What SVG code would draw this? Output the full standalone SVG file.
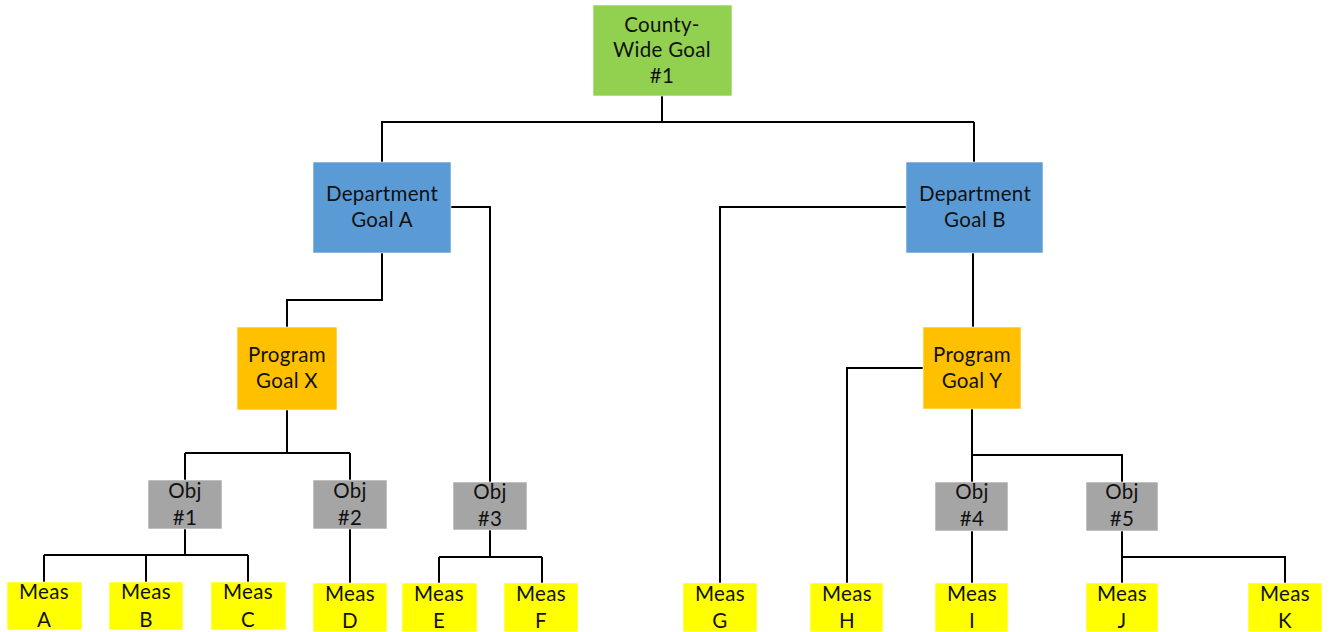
<svg xmlns="http://www.w3.org/2000/svg" width="1332" height="632" viewBox="0 0 1332 632">
<style>
text{font-family:Lato,"Open Sans","Liberation Sans",sans-serif;font-size:20.5px;letter-spacing:0.3px;fill:#111;text-anchor:middle}
.c{fill:none;stroke:#000;stroke-width:2}
.g{fill:#92D050}.b{fill:#5B9BD5}.o{fill:#FFC000}.s{fill:#A5A5A5}.y{fill:#FFFF00}
rect{stroke:#fff;stroke-width:0.6}
</style>
<rect width="1332" height="632" fill="#fff" stroke="none"/>
<g id="connectors">
<path class="c" d="M662 96V122M381 122H974M382 122V162M974 122V162"/>
<path class="c" d="M382 253V300H287V327"/>
<path class="c" d="M451 207H490V482"/>
<path class="c" d="M287 410V453M185 453H350M185 453V480M350 453V480"/>
<path class="c" d="M185 529V555M44 555H248M44 555V582M146 555V582M248 555V582"/>
<path class="c" d="M350 529V583"/>
<path class="c" d="M490 530V557M439 557H542M439 557V583M542 557V583"/>
<path class="c" d="M906 207H720V583"/>
<path class="c" d="M973 253V327"/>
<path class="c" d="M923 368H847V583"/>
<path class="c" d="M972 409V482M972 455H1122V482"/>
<path class="c" d="M972 531V583"/>
<path class="c" d="M1122 531V583M1122 557H1285V583"/>
</g>
<g id="county"><rect class="g" x="593" y="5" width="139" height="91"/><text x="662" y="32">County-</text><text x="662" y="57">Wide Goal</text><text x="662" y="83">#1</text></g>
<g id="deptA"><rect class="b" x="313" y="162" width="138" height="91"/><text x="382" y="201">Department</text><text x="382" y="227">Goal A</text></g>
<g id="deptB"><rect class="b" x="906" y="162" width="137" height="91"/><text x="975" y="201">Department</text><text x="975" y="227">Goal B</text></g>
<g id="progX"><rect class="o" x="237" y="327" width="100" height="83"/><text x="287" y="362">Program</text><text x="287" y="388">Goal X</text></g>
<g id="progY"><rect class="o" x="923" y="327" width="98" height="82"/><text x="972" y="362">Program</text><text x="972" y="388">Goal Y</text></g>
<g id="obj1"><rect class="s" x="148" y="480" width="74" height="49"/><text x="185" y="498">Obj</text><text x="185" y="525">#1</text></g>
<g id="obj2"><rect class="s" x="313" y="480" width="74" height="49"/><text x="350" y="498">Obj</text><text x="350" y="525">#2</text></g>
<g id="obj3"><rect class="s" x="453" y="482" width="74" height="48"/><text x="490" y="499">Obj</text><text x="490" y="526">#3</text></g>
<g id="obj4"><rect class="s" x="935" y="482" width="73" height="49"/><text x="972" y="499">Obj</text><text x="972" y="526">#4</text></g>
<g id="obj5"><rect class="s" x="1086" y="482" width="72" height="49"/><text x="1122" y="499">Obj</text><text x="1122" y="526">#5</text></g>
<g id="measA"><rect class="y" x="7" y="582" width="75" height="48"/><text x="44" y="599">Meas</text><text x="44" y="627">A</text></g>
<g id="measB"><rect class="y" x="109" y="582" width="74" height="48"/><text x="146" y="599">Meas</text><text x="146" y="627">B</text></g>
<g id="measC"><rect class="y" x="211" y="582" width="75" height="48"/><text x="248" y="599">Meas</text><text x="248" y="627">C</text></g>
<g id="measD"><rect class="y" x="313" y="583" width="74" height="49"/><text x="350" y="601">Meas</text><text x="350" y="628">D</text></g>
<g id="measE"><rect class="y" x="402" y="583" width="75" height="49"/><text x="439" y="601">Meas</text><text x="439" y="628">E</text></g>
<g id="measF"><rect class="y" x="504" y="583" width="74" height="49"/><text x="541" y="601">Meas</text><text x="541" y="628">F</text></g>
<g id="measG"><rect class="y" x="683" y="583" width="74" height="49"/><text x="720" y="601">Meas</text><text x="720" y="628">G</text></g>
<g id="measH"><rect class="y" x="810" y="583" width="73" height="49"/><text x="847" y="601">Meas</text><text x="847" y="628">H</text></g>
<g id="measI"><rect class="y" x="935" y="583" width="73" height="49"/><text x="972" y="601">Meas</text><text x="972" y="628">I</text></g>
<g id="measJ"><rect class="y" x="1086" y="583" width="72" height="49"/><text x="1122" y="601">Meas</text><text x="1122" y="628">J</text></g>
<g id="measK"><rect class="y" x="1248" y="583" width="74" height="49"/><text x="1285" y="601">Meas</text><text x="1285" y="628">K</text></g>
</svg>
